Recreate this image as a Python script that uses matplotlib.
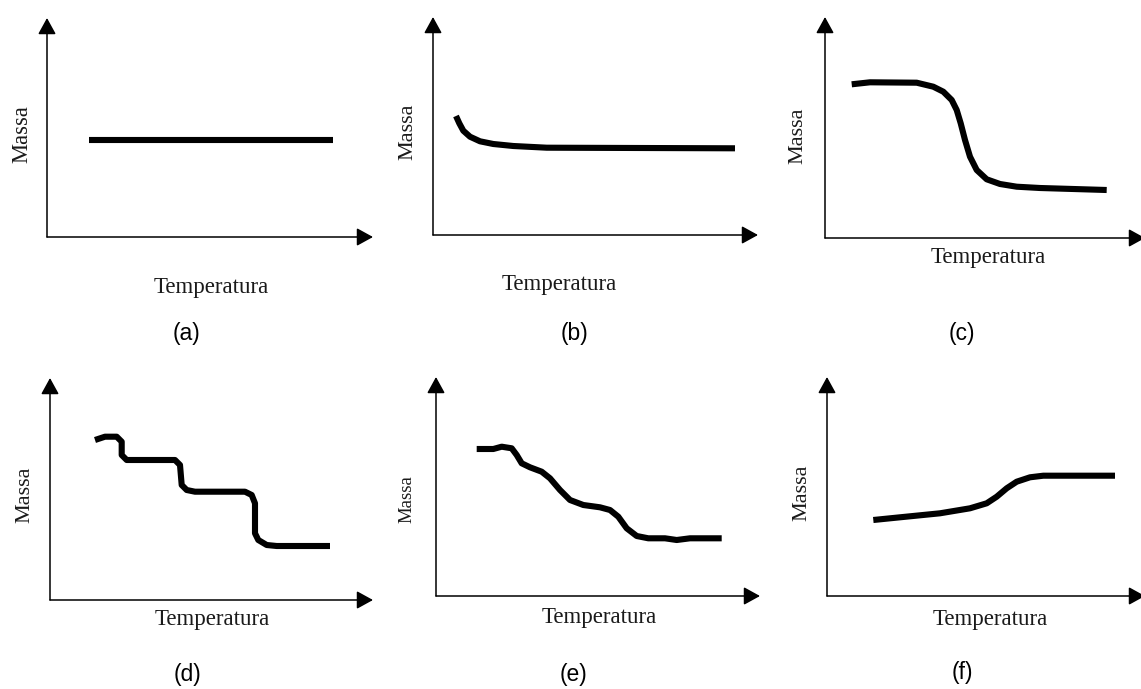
import matplotlib.pyplot as plt

W, H = 1141, 689

# curves of each panel, in pixels measured from the panel's axis origin
a_x = [42, 286]
a_y = [97, 97]

b_x = [23, 26.3, 30.3, 37, 47, 60.3, 80.3, 113.7, 302]
b_y = [119, 111.7, 104.3, 98.3, 93.7, 91, 89, 87.3, 86.7]

c_x = [26.7, 45, 91.7, 108.3, 118.3, 126.7, 131.7, 135.7, 140, 145, 151.7, 161.7,
       175, 191.7, 215, 281.7]
c_y = [153.7, 155.7, 155.3, 151.3, 146.3, 138, 128, 114.7, 98, 81.3, 68, 58.7,
       54, 51.3, 50, 48]

d_x = [45, 55, 66.7, 71.7, 71.7, 76.7, 125, 130, 131.7, 136.7, 145, 195, 201.7,
       205, 205, 208.3, 216.7, 226.7, 280]
d_y = [160, 163.3, 163.3, 158.3, 145, 140, 140, 135, 115, 110, 108.3, 108.3, 105,
       96.7, 66.7, 60, 55, 54, 54]

e_x = [40.7, 57.3, 65.7, 75.7, 80.7, 85.7, 94, 105.7, 114, 124, 134, 147.3, 164,
       174, 182.3, 190.7, 200.7, 212.3, 229, 240.7, 254, 285.7]
e_y = [147, 147, 149.3, 147.7, 141, 132.7, 128.7, 124.3, 117.7, 106, 96, 91, 88.7,
       86, 79.3, 67.7, 60, 57.7, 57.7, 56, 57.7, 57.7]

f_x = [46.3, 73, 113, 143, 159.7, 169.7, 179.7, 189.7, 203, 216.3, 288]
f_y = [76, 78.7, 82.7, 87.7, 92.7, 99.3, 107.7, 114.3, 118.7, 120.3, 120.3]

curves = [(a_x, a_y), (b_x, b_y), (c_x, c_y), (d_x, d_y), (e_x, e_y), (f_x, f_y)]
tags = ['(a)', '(b)', '(c)', '(d)', '(e)', '(f)']
xlabel = 'Temperatura'
ylabel = 'Massa'

# origin x, origin y, width, height of each panel (pixels)
boxes = [(47, 237, 326, 219), (433, 235, 325, 218), (825, 238, 320, 221),
         (50, 600, 323, 222), (436, 596, 324, 219), (827, 596, 318, 219)]
massa_pos = [(22, 134), (408, 132), (798, 136), (25, 495), (407, 499), (802, 493)]
massa_size = [16.3, 16, 16, 16, 13.5, 16]
temp_pos = [(211, 287), (559, 285), (988, 258), (212, 620), (599, 618), (990, 619)]
tag_pos = [(186, 333), (574, 333), (962, 333), (187, 674), (573, 674), (962, 672)]

fig = plt.figure(figsize=(W / 100, H / 100), dpi=100)

for i, (cx, cy) in enumerate(curves):
    ox, oy, w, h = boxes[i]
    ax = fig.add_axes([ox / W, 1 - oy / H, w / W, h / H])
    ax.set_xlim(0, w)
    ax.set_ylim(0, h)
    ax.axis('off')
    for tip in [(w, 0), (0, h)]:
        ax.annotate('', xy=tip, xytext=(0, 0),
                    arrowprops=dict(arrowstyle='-|>,head_length=1.0,head_width=0.55',
                                    mutation_scale=10, lw=1.1, color='black',
                                    shrinkA=0, shrinkB=0),
                    annotation_clip=False)
    ax.plot(cx, cy, color='black', lw=4.4, solid_capstyle='butt',
            solid_joinstyle='round', clip_on=False)

    mx, my = massa_pos[i]
    fig.text(mx / W, 1 - my / H, ylabel, rotation=90, ha='center', va='center',
             family='Liberation Serif', fontsize=massa_size[i], color='#1a1a1a')
    tx, ty = temp_pos[i]
    fig.text(tx / W, 1 - ty / H, xlabel, ha='center', va='center',
             family='Liberation Serif', fontsize=16.5, color='#1a1a1a')
    gx, gy = tag_pos[i]
    fig.text(gx / W, 1 - gy / H, tags[i], ha='center', va='center',
             family='Liberation Sans', fontsize=16.5, color='black')

fig.savefig('out.png', dpi=100)
